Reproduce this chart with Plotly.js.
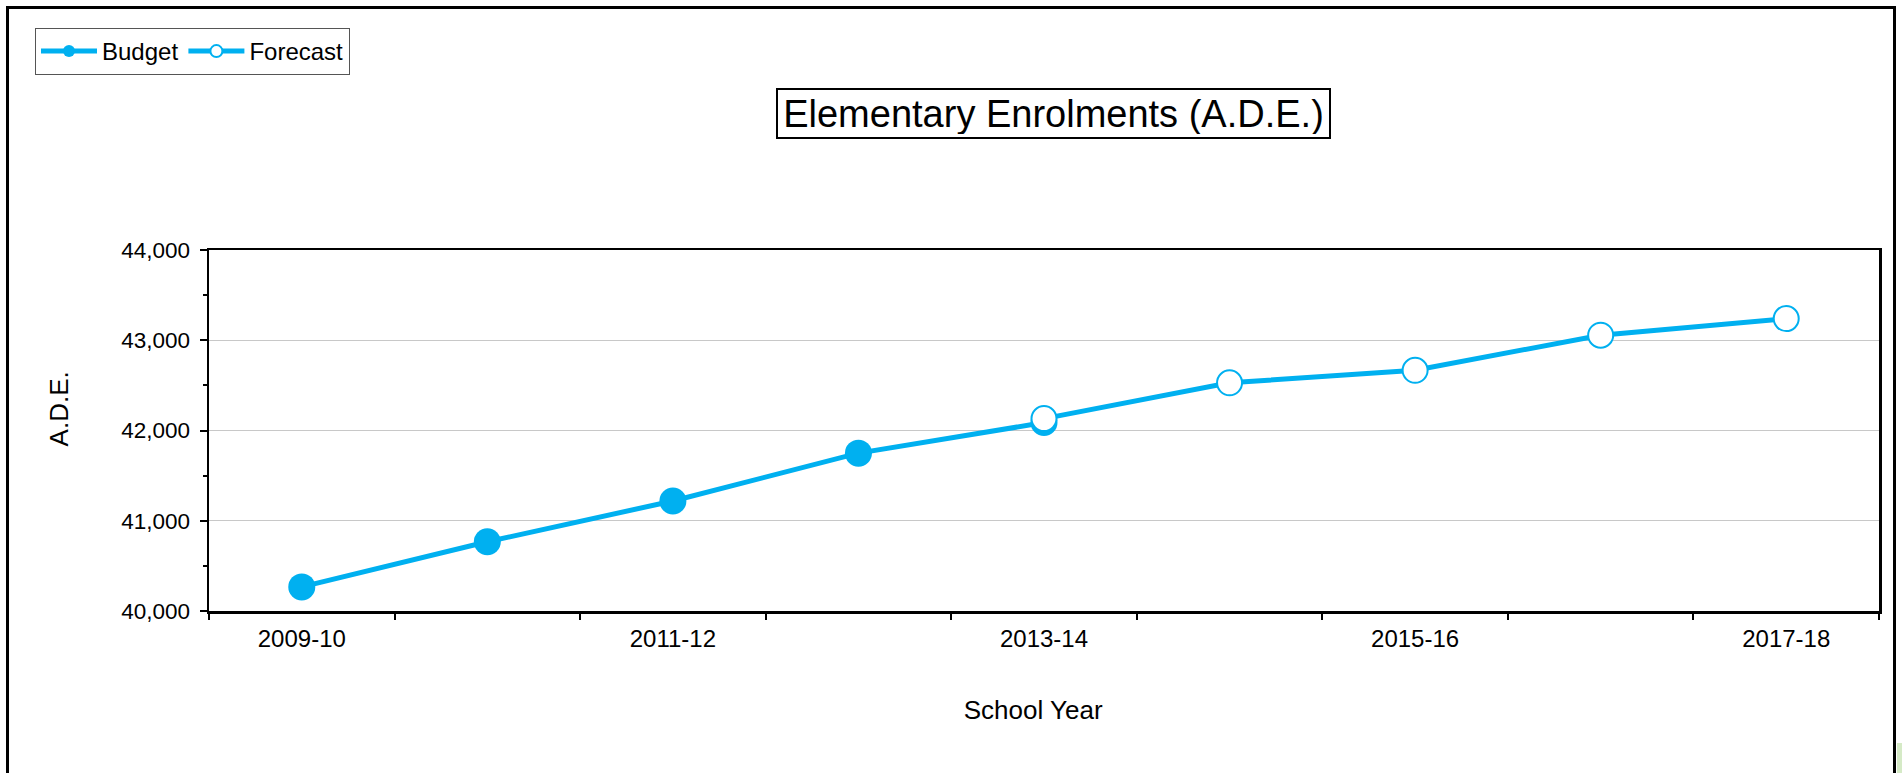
<!DOCTYPE html>
<html>
<head>
<meta charset="utf-8">
<script src="https://cdn.plot.ly/plotly-3.0.1.min.js"></script>
<style>
  html, body { margin: 0; padding: 0; background: #ffffff; }
  #chart { width: 1902px; height: 773px; }
</style>
</head>
<body>
<div id="chart"></div>
<script>
// ---- data ----
var schoolYears = ["2009-10", "2010-11", "2011-12", "2012-13", "2013-14", "2014-15", "2015-16", "2016-17", "2017-18"];
var tickLabels  = ["2009-10", "", "2011-12", "", "2013-14", "", "2015-16", "", "2017-18"];
var budgetYears = ["2009-10", "2010-11", "2011-12", "2012-13", "2013-14"];
var budgetValues = [40267, 40767, 41219, 41749, 42088];
var forecastYears = ["2013-14", "2014-15", "2015-16", "2016-17", "2017-18"];
var forecastValues = [42132, 42529, 42667, 43056, 43240];

// ---- layout constants ----
var W = 1902, H = 773;
var ML = 209, MR = 23, MT = 250, MB = 162;
var PW = W - ML - MR, PH = H - MT - MB;
function px2x(px) { return (px - ML) / PW; }
function py2y(py) { return (H - MB - py) / PH; }

var BLUE = "#00B0F0";
var FONT = "Liberation Sans, Arial, sans-serif";

var traces = [
  {
    type: "scatter", mode: "lines+markers", name: "Budget",
    x: budgetYears, y: budgetValues,
    line: { color: BLUE, width: 5 },
    marker: { color: BLUE, size: 27, symbol: "circle" },
    cliponaxis: false
  },
  {
    type: "scatter", mode: "lines+markers", name: "Forecast",
    x: forecastYears, y: forecastValues,
    line: { color: BLUE, width: 5 },
    marker: { color: "#ffffff", size: 25, symbol: "circle", line: { color: BLUE, width: 2 } },
    cliponaxis: false
  }
];

var layout = {
  width: W, height: H,
  margin: { l: ML, r: MR, t: MT, b: MB, pad: 0 },
  paper_bgcolor: "#ffffff", plot_bgcolor: "#ffffff",
  font: { family: FONT, color: "#000000", size: 24 },
  showlegend: true,
  legend: {
    orientation: "h",
    xref: "container", yref: "container",
    x: 35 / W, y: 1 - 28 / H, xanchor: "left", yanchor: "top",
    bordercolor: "#555555", borderwidth: 1, bgcolor: "#ffffff",
    font: { family: FONT, size: 24, color: "#000000" },
    itemsizing: "constant",
    itemwidth: 56,
    tracegroupgap: 0
  },
  xaxis: {
    type: "category",
    categoryorder: "array", categoryarray: schoolYears,
    range: [-0.5, schoolYears.length - 0.5],
    tickmode: "array", tickvals: schoolYears, ticktext: tickLabels,
    tickson: "boundaries",
    ticks: "outside", ticklen: 6, tickwidth: 2, tickcolor: "#000000",
    showline: true, linecolor: "#000000", linewidth: 2.5, mirror: true,
    showgrid: false, zeroline: false,
    tickfont: { family: FONT, size: 24, color: "#000000" },
    ticklabelstandoff: 5,
    title: { text: "School Year&nbsp;&nbsp;&nbsp;", font: { family: FONT, size: 26, color: "#000000" }, standoff: 50 },
    automargin: false, fixedrange: true
  },
  yaxis: {
    range: [40000, 44000],
    tickmode: "linear", tick0: 40000, dtick: 1000,
    tickformat: ",d",
    ticks: "outside", ticklen: 7, tickwidth: 2, tickcolor: "#000000",
    minor: { dtick: 500, tick0: 40000, ticks: "outside", ticklen: 4, tickwidth: 2, tickcolor: "#000000", showgrid: false },
    showline: true, linecolor: "#000000", linewidth: 2.5, mirror: true,
    showgrid: true, gridcolor: "#c8c8c8", gridwidth: 1,
    zeroline: false,
    tickfont: { family: FONT, size: 22.5, color: "#000000" },
    ticklabelstandoff: 5,
    title: { text: "&nbsp;&nbsp;&nbsp;&nbsp;&nbsp;&nbsp;A.D.E.", font: { family: FONT, size: 26, color: "#000000" }, standoff: 45 },
    automargin: false, fixedrange: true
  },
  annotations: [
    {
      xref: "paper", yref: "paper",
      x: px2x(1053), y: py2y(113.5), xanchor: "center", yanchor: "middle",
      text: "Elementary Enrolments (A.D.E.)",
      showarrow: false,
      font: { family: FONT, size: 38, color: "#000000" },
      bordercolor: "#000000", borderwidth: 2, borderpad: 3,
      width: 545, height: 41, bgcolor: "#ffffff"
    }
  ],
  shapes: [
    {
      type: "rect", xref: "paper", yref: "paper", layer: "below",
      x0: px2x(7.5), x1: px2x(1894.5), y0: py2y(790), y1: py2y(7.5),
      line: { color: "#000000", width: 3 }, fillcolor: "rgba(0,0,0,0)"
    },
    {
      type: "rect", xref: "paper", yref: "paper", layer: "below",
      x0: px2x(1897), x1: px2x(1905), y0: py2y(780), y1: py2y(743),
      line: { width: 0 }, fillcolor: "#d5eac6"
    }
  ]
};

Plotly.newPlot("chart", traces, layout, { displayModeBar: false, staticPlot: true });
</script>
</body>
</html>
